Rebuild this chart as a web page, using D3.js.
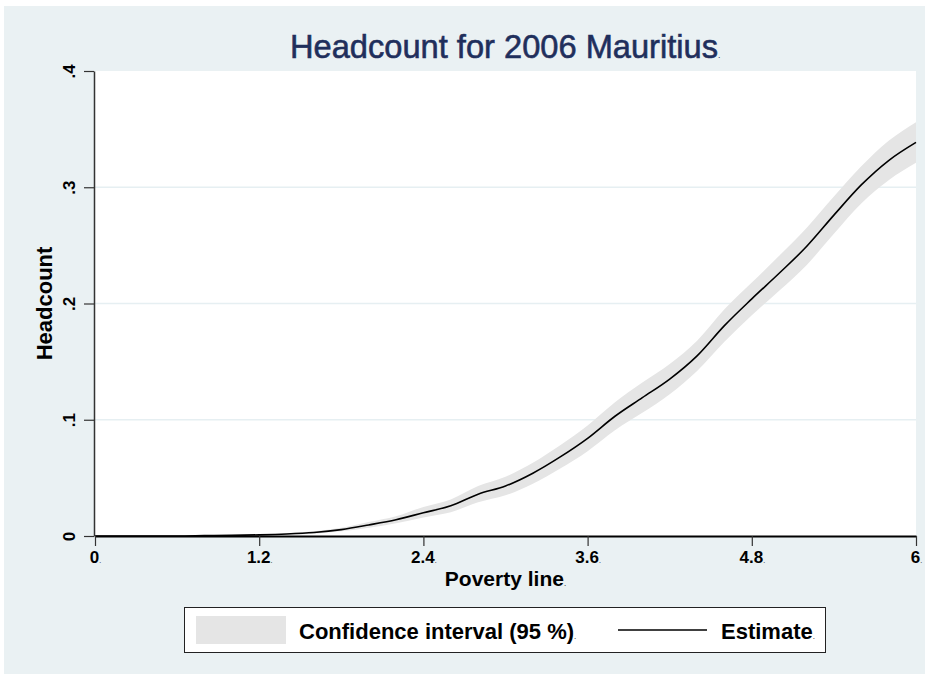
<!DOCTYPE html>
<html>
<head>
<meta charset="utf-8">
<script src="https://cdn.jsdelivr.net/npm/d3@7"></script>
<style>
  body { margin: 0; background: #fff; }
  text { font-family: "Liberation Sans", Arial, sans-serif; }
</style>
</head>
<body>
<div id="chart"></div>
<script>
// poverty line grid and headcount estimates
const povLine = [0, 0.2, 0.4, 0.6, 0.8, 1.0, 1.2, 1.4, 1.6, 1.8, 2.0, 2.2, 2.4, 2.6, 2.8, 3.0,
  3.2, 3.4, 3.6, 3.8, 4.0, 4.2, 4.4, 4.6, 4.8, 5.0, 5.2, 5.4, 5.6, 5.8, 6.0];
const estimate = [0, 0, 0, 0, 0.0003, 0.0006, 0.001, 0.0017, 0.003, 0.0055, 0.0095, 0.014,
  0.020, 0.026, 0.036, 0.043, 0.054, 0.068, 0.084, 0.103, 0.119, 0.135, 0.155, 0.181,
  0.204, 0.226, 0.249, 0.276, 0.302, 0.323, 0.3386];
const ciLower = [0, 0, 0, 0, 0, 0.0002, 0.0005, 0.001, 0.002, 0.004, 0.007, 0.011,
  0.016, 0.0205, 0.029, 0.035, 0.045, 0.058, 0.073, 0.091, 0.106, 0.122, 0.142, 0.167,
  0.190, 0.211, 0.233, 0.260, 0.286, 0.306, 0.321];
const ciUpper = [0, 0, 0, 0.0002, 0.0007, 0.001, 0.0015, 0.0024, 0.004, 0.007, 0.012, 0.017,
  0.025, 0.0315, 0.043, 0.051, 0.063, 0.078, 0.095, 0.115, 0.132, 0.148, 0.168, 0.195,
  0.218, 0.241, 0.265, 0.292, 0.318, 0.340, 0.356];

const xTicks = [0, 1.2, 2.4, 3.6, 4.8, 6];
const xTickLabels = ["0", "1.2", "2.4", "3.6", "4.8", "6"];
const yTicks = [0, 0.1, 0.2, 0.3, 0.4];
const yTickLabels = ["0", ".1", ".2", ".3", ".4"];

const width = 929, height = 678;
const plot = { left: 95, right: 916, top: 71, bottom: 536 };

const svg = d3.select("#chart").append("svg")
  .attr("width", width)
  .attr("height", height);

// outer background
svg.append("rect")
  .attr("x", 4).attr("y", 6)
  .attr("width", 921).attr("height", 668)
  .attr("fill", "#eaf1f3");

svg.append("rect")
  .attr("x", plot.left).attr("y", plot.top)
  .attr("width", plot.right - plot.left).attr("height", plot.bottom - plot.top)
  .attr("fill", "#fff");

const x = d3.scaleLinear().domain([0, 6]).range([plot.left, plot.right]);
const y = d3.scaleLinear().domain([0, 0.4]).range([plot.bottom, plot.top]);

// gridlines
svg.append("g")
  .selectAll("line")
  .data([0.1, 0.2, 0.3])
  .join("line")
    .attr("x1", plot.left).attr("x2", plot.right)
    .attr("y1", d => y(d)).attr("y2", d => y(d))
    .attr("stroke", "#e6eff2")
    .attr("stroke-width", 1.5);

const rows = povLine.map((p, i) => ({ p, est: estimate[i], lo: ciLower[i], hi: ciUpper[i] }));

// confidence band
svg.append("path")
  .datum(rows)
  .attr("fill", "#e5e5e5")
  .attr("d", d3.area().curve(d3.curveMonotoneX)
    .x(d => x(d.p)).y0(d => y(d.lo)).y1(d => y(d.hi)));

// estimate line
svg.append("path")
  .datum(rows)
  .attr("fill", "none")
  .attr("stroke", "#000")
  .attr("stroke-width", 1.6)
  .attr("d", d3.line().curve(d3.curveMonotoneX).x(d => x(d.p)).y(d => y(d.est)));

// x axis
const xAxis = svg.append("g")
  .attr("transform", `translate(0,${plot.bottom})`)
  .call(d3.axisBottom(x)
    .tickValues(xTicks)
    .tickFormat((d, i) => xTickLabels[i])
    .tickSize(10)
    .tickSizeOuter(0));
xAxis.select(".domain").attr("stroke", "#000").attr("stroke-width", 2);
xAxis.selectAll(".tick line").attr("stroke", "#333").attr("stroke-width", 1.2);
xAxis.selectAll(".tick text")
  .attr("y", 15)
  .attr("font-size", 17)
  .attr("font-weight", "bold")
  .attr("fill", "#000")
  .append("tspan").attr("font-size", 7).attr("font-weight", "normal").text(".");

// y axis
const yAxis = svg.append("g")
  .attr("transform", `translate(${plot.left - 1},0)`)
  .call(d3.axisLeft(y)
    .tickValues(yTicks)
    .tickFormat((d, i) => yTickLabels[i])
    .tickSize(10)
    .tickSizeOuter(0));
yAxis.select(".domain").attr("stroke", "#333").attr("stroke-width", 1.5);
yAxis.selectAll(".tick line").attr("stroke", "#333").attr("stroke-width", 1.2);
yAxis.selectAll(".tick text")
  .attr("x", null).attr("dy", null)
  .attr("transform", "translate(-19,0) rotate(-90)")
  .attr("text-anchor", "middle")
  .attr("font-size", 17)
  .attr("font-weight", "bold")
  .attr("fill", "#000");

// title, squeezed a bit like the original's narrow face
const title = svg.append("text")
  .attr("transform", "translate(290,58) scale(0.96,1)")
  .attr("font-size", 34)
  .attr("fill", "#1f2f5c")
  .attr("stroke", "#1f2f5c")
  .attr("stroke-width", 0.6);
title.append("tspan").text("Headcount for 2006 Mauritius");
title.append("tspan").attr("font-size", 9).attr("stroke-width", 0).text(".");

// axis titles
svg.append("text")
  .attr("x", (plot.left + plot.right) / 2)
  .attr("y", 586)
  .attr("text-anchor", "middle")
  .attr("font-size", 21)
  .attr("font-weight", "bold")
  .attr("fill", "#000")
  .text("Poverty line")
  .append("tspan").attr("font-size", 8).attr("font-weight", "normal").text(".");

svg.append("text")
  .attr("transform", `translate(52,${(plot.top + plot.bottom) / 2}) rotate(-90)`)
  .attr("text-anchor", "middle")
  .attr("font-size", 22)
  .attr("font-weight", "bold")
  .attr("fill", "#000")
  .text("Headcount");

// legend
const legend = svg.append("g");
legend.append("rect")
  .attr("x", 184.5).attr("y", 607.5)
  .attr("width", 641).attr("height", 45)
  .attr("fill", "#fff")
  .attr("stroke", "#222")
  .attr("stroke-width", 1);
legend.append("rect")
  .attr("x", 196).attr("y", 616)
  .attr("width", 90).attr("height", 28)
  .attr("fill", "#e5e5e5");
legend.append("text")
  .attr("x", 299).attr("y", 639)
  .attr("font-size", 22)
  .attr("font-weight", "bold")
  .attr("fill", "#000")
  .text("Confidence interval (95 %)")
  .append("tspan").attr("font-size", 8).attr("font-weight", "normal").text(".");
legend.append("line")
  .attr("x1", 618).attr("x2", 707)
  .attr("y1", 630).attr("y2", 630)
  .attr("stroke", "#000")
  .attr("stroke-width", 1.6);
legend.append("text")
  .attr("x", 721).attr("y", 639)
  .attr("font-size", 22)
  .attr("font-weight", "bold")
  .attr("fill", "#000")
  .text("Estimate")
  .append("tspan").attr("font-size", 8).attr("font-weight", "normal").text(".");
</script>
</body>
</html>
